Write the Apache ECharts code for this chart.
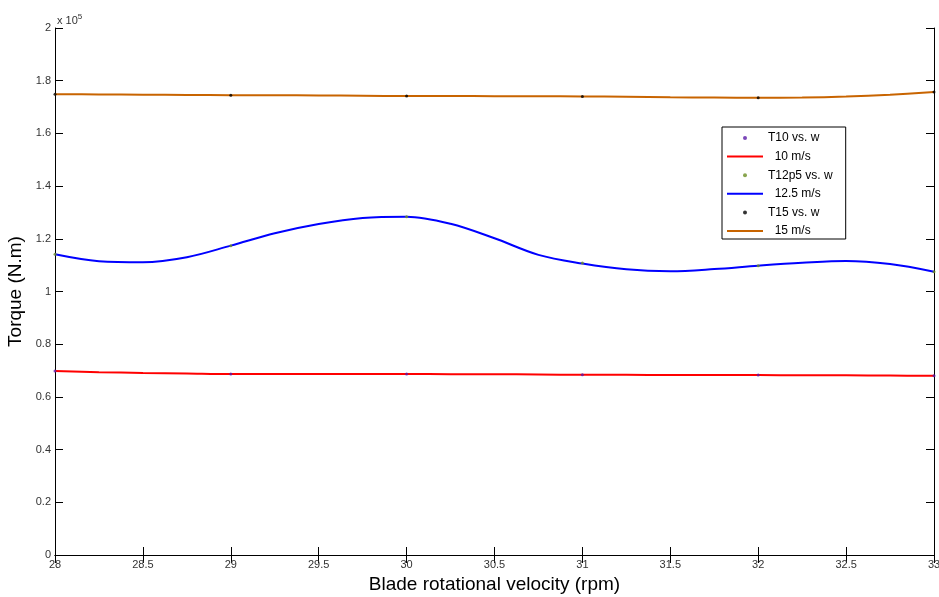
<!DOCTYPE html>
<html>
<head>
<meta charset="utf-8">
<script src="https://cdn.jsdelivr.net/npm/echarts@6/dist/echarts.min.js"></script>
<style>
  html, body { margin: 0; padding: 0; background: #fff; }
  #chart { width: 939px; height: 597px; }
</style>
</head>
<body>
<div id="chart"></div>
<script>
// torque values are in units of 1e5 N.m (axis shows "x 10^5")
const rpmPoints = [28, 29, 30, 31, 32, 33]
const t10Points = [0.698, 0.687, 0.687, 0.684, 0.683, 0.680]
const t12p5Points = [1.141, 1.174, 1.284, 1.108, 1.098, 1.075]
const t15Points = [1.749, 1.745, 1.742, 1.740, 1.735, 1.757]

// fitted curves
const rpmFit = [28, 28.25, 28.5, 28.75, 29, 29.25, 29.5, 29.75, 30, 30.25, 30.5, 30.75, 31, 31.25, 31.5, 31.75, 32, 32.25, 32.5, 32.75, 33]
const fit10 = [0.698, 0.694, 0.691, 0.689, 0.687, 0.687, 0.687, 0.687, 0.687, 0.686, 0.686, 0.685, 0.684, 0.684, 0.683, 0.683, 0.683, 0.682, 0.682, 0.681, 0.680]
const fit12p5 = [1.141, 1.115, 1.111, 1.130, 1.174, 1.221, 1.256, 1.279, 1.284, 1.257, 1.202, 1.139, 1.106, 1.084, 1.077, 1.085, 1.098, 1.109, 1.116, 1.104, 1.075]
const fit15 = [1.749, 1.748, 1.747, 1.746, 1.745, 1.745, 1.744, 1.743, 1.742, 1.742, 1.741, 1.741, 1.740, 1.739, 1.737, 1.736, 1.735, 1.736, 1.740, 1.747, 1.757]

const yTicks = [0, 0.2, 0.4, 0.6, 0.8, 1, 1.2, 1.4, 1.6, 1.8, 2]
const xTicks = [28, 28.5, 29, 29.5, 30, 30.5, 31, 31.5, 32, 32.5, 33]

const pairs = (xs, ys) => xs.map((x, i) => [x, ys[i]])

const font = 'Liberation Sans, Arial, sans-serif'
const boxLine = { show: true, lineStyle: { color: '#000', width: 1 } }
const lineIcon = 'path://M0,0 L36,0 L36,2 L0,2 Z'

const mychart = echarts.init(document.getElementById('chart'))
mychart.setOption({
  animation: false,
  backgroundColor: '#fff',
  title: {
    text: 'x 10{s|5}',
    left: 52,
    top: 8,
    textStyle: {
      fontFamily: font,
      fontSize: 11,
      fontWeight: 'normal',
      color: '#333',
      rich: { s: { fontSize: 8, verticalAlign: 'top', padding: [0, 0, 8, 0], color: '#333', fontFamily: font } }
    }
  },
  grid: { left: 55, right: 5, top: 28, bottom: 42, outerBoundsMode: 'none', containLabel: false },
  legend: {
    orient: 'vertical',
    left: 722,
    top: 127,
    padding: [4, 13, 1, 5],
    itemWidth: 36,
    itemHeight: 4,
    itemGap: 4.6,
    backgroundColor: '#fff',
    borderColor: '#000',
    borderWidth: 1,
    borderRadius: 0,
    textStyle: { fontFamily: font, fontSize: 12, color: '#000', lineHeight: 14 },
    formatter: name => (name.indexOf('m/s') >= 0 ? '  ' + name : name),
    data: [
      { name: 'T10 vs. w', icon: 'circle' },
      { name: '10 m/s', icon: lineIcon },
      { name: 'T12p5 vs. w', icon: 'circle' },
      { name: '12.5 m/s', icon: lineIcon },
      { name: 'T15 vs. w', icon: 'circle' },
      { name: '15 m/s', icon: lineIcon }
    ]
  },
  xAxis: [
    {
      type: 'value',
      min: 28,
      max: 33,
      interval: 0.5,
      name: 'Blade rotational velocity (rpm)',
      nameLocation: 'middle',
      nameGap: 20,
      nameTextStyle: { fontFamily: font, fontSize: 19, color: '#000' },
      axisLine: boxLine,
      axisTick: { show: true, inside: true, length: 8, lineStyle: { color: '#000' } },
      axisLabel: {
        fontFamily: font,
        fontSize: 11,
        color: '#333',
        margin: 4,
        formatter: v => (xTicks.indexOf(v) >= 0 ? String(v) : '')
      },
      splitLine: { show: false }
    },
    {
      type: 'value',
      position: 'top',
      min: 28,
      max: 33,
      interval: 0.5,
      axisLine: boxLine,
      axisTick: { show: true, inside: true, length: 8, lineStyle: { color: '#000' } },
      axisLabel: { show: false },
      splitLine: { show: false }
    }
  ],
  yAxis: [
    {
      type: 'value',
      min: 0,
      max: 2,
      interval: 0.2,
      name: 'Torque (N.m)',
      nameLocation: 'middle',
      nameGap: 26,
      nameTextStyle: { fontFamily: font, fontSize: 19, color: '#000' },
      axisLine: boxLine,
      axisTick: { show: true, inside: true, length: 8, lineStyle: { color: '#000' } },
      axisLabel: {
        fontFamily: font,
        fontSize: 11,
        color: '#333',
        margin: 4,
        formatter: v => {
          const t = yTicks.find(k => Math.abs(k - v) < 1e-9)
          return t === undefined ? '' : String(t)
        }
      },
      splitLine: { show: false }
    },
    {
      type: 'value',
      position: 'right',
      min: 0,
      max: 2,
      interval: 0.2,
      axisLine: boxLine,
      axisTick: { show: true, inside: true, length: 8, lineStyle: { color: '#000' } },
      axisLabel: { show: false },
      splitLine: { show: false }
    }
  ],
  series: [
    {
      name: 'T10 vs. w',
      type: 'scatter',
      symbol: 'circle',
      symbolSize: 3,
      z: 5,
      itemStyle: { color: '#5a1aa8' },
      data: pairs(rpmPoints, t10Points)
    },
    {
      name: '10 m/s',
      type: 'line',
      smooth: 0.35,
      showSymbol: false,
      symbol: 'none',
      lineStyle: { color: '#ff0000', width: 2 },
      itemStyle: { color: '#ff0000' },
      data: pairs(rpmFit, fit10)
    },
    {
      name: 'T12p5 vs. w',
      type: 'scatter',
      symbol: 'circle',
      symbolSize: 3,
      z: 5,
      itemStyle: { color: '#6b8e23' },
      data: pairs(rpmPoints, t12p5Points)
    },
    {
      name: '12.5 m/s',
      type: 'line',
      smooth: 0.35,
      showSymbol: false,
      symbol: 'none',
      lineStyle: { color: '#0000ff', width: 2 },
      itemStyle: { color: '#0000ff' },
      data: pairs(rpmFit, fit12p5)
    },
    {
      name: 'T15 vs. w',
      type: 'scatter',
      symbol: 'circle',
      symbolSize: 3,
      z: 5,
      itemStyle: { color: '#000' },
      data: pairs(rpmPoints, t15Points)
    },
    {
      name: '15 m/s',
      type: 'line',
      smooth: 0.35,
      showSymbol: false,
      symbol: 'none',
      lineStyle: { color: '#c86400', width: 2 },
      itemStyle: { color: '#c86400' },
      data: pairs(rpmFit, fit15)
    }
  ]
})
</script>
</body>
</html>
